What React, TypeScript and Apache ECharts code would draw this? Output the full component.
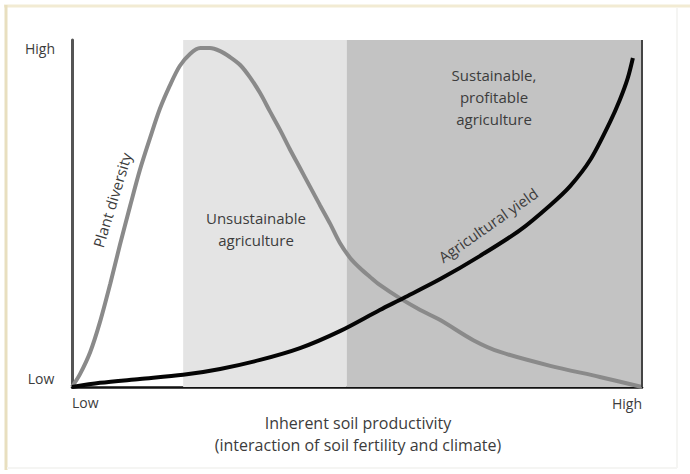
import React, { useEffect, useRef } from "react";
import * as echarts from "echarts";

// x: inherent soil productivity (0 = low, 100 = high); y: relative level (0 = low, 100 = high)
const plantDiversity: [number, number][] = [
  [0, 0], [1.4, 3.7], [3.2, 10.1], [4.9, 18.7], [6.7, 29.7], [8.4, 40.9], [10.2, 52.2],
  [11.9, 62.5], [13.7, 71.8], [15.4, 80.1], [17.2, 87.0], [18.9, 92.5], [20.7, 96.0],
  [22.5, 97.7], [24.2, 97.7], [26.0, 96.8], [27.7, 95.1], [29.5, 92.8], [31.2, 89.3],
  [33.0, 84.7], [34.7, 79.5], [36.5, 74.1], [38.2, 68.6], [40.0, 63.1], [41.8, 57.6],
  [43.5, 52.4], [45.3, 47.0], [47.0, 41.5], [48.8, 37.2], [50.5, 34.3], [52.3, 31.7],
  [54.0, 29.4], [57.5, 25.6], [61.1, 22.2], [64.6, 19.3], [70.4, 13.5], [75.1, 10.1],
  [83.9, 6.1], [92.6, 2.9], [100, 0],
];
const agriculturalYield: [number, number][] = [
  [0, 0], [4.9, 1.2], [11.9, 2.3], [19.5, 3.5], [26, 5.2], [33, 7.8], [40, 11.2], [47, 16.1],
  [54, 22.2], [58.1, 25.6], [64.6, 31.1], [71.6, 37.8], [78.6, 45.2], [83.9, 52.4],
  [87.4, 57.9], [90.9, 65.4], [94.4, 76.4], [96.1, 82.7], [97.5, 89.0], [98.4, 94.8],
];
const unsustainableStart = 19.5;
const sustainableStart = 48.2;
const axisMax = 100;
const lowLabel = "Low";
const highLabel = "High";
const xTitle = ["Inherent soil productivity", "(interaction of soil fertility and climate)"];
const unsustainableLabel = "Unsustainable\nagriculture";
const sustainableLabel = "Sustainable,\nprofitable\nagriculture";
const diversityLabel = "Plant diversity";
const yieldLabel = "Agricultural yield";

const FONT = "Open Sans";
const TXT = "#3c3c3c";

export default function App() {
  const ref = useRef<HTMLDivElement>(null);
  useEffect(() => {
    if (!ref.current) return;
    const chart = echarts.init(ref.current, null, { renderer: "svg" });
    const textStyle = (extra: any = {}) => ({
      fill: TXT,
      fontFamily: FONT,
      fontSize: 14,
      ...extra,
    });
    const txt = (x: number, y: number, text: string, extra: any = {}, rot = 0) => ({
      type: "text",
      x,
      y,
      z: 100,
      rotation: (rot * Math.PI) / 180,
      style: textStyle({ text, align: "center", verticalAlign: "middle", ...extra }),
    });
    chart.setOption({
      animation: false,
      backgroundColor: "#ffffff",
      grid: { left: 72, top: 40, right: 48, bottom: 87 },
      xAxis: {
        type: "value",
        min: 0,
        max: axisMax,
        axisLine: { show: true, onZero: false, lineStyle: { color: "#111", width: 2.5 } },
        axisTick: { show: false },
        axisLabel: { show: false },
        splitLine: { show: false },
      },
      yAxis: {
        type: "value",
        min: 0,
        max: axisMax,
        axisLine: { show: true, onZero: false, lineStyle: { color: "#555", width: 3 } },
        axisTick: { show: false },
        axisLabel: { show: false },
        splitLine: { show: false },
      },
      series: [
        {
          type: "line",
          data: [],
          silent: true,
          markArea: {
            silent: true,
            itemStyle: { color: "#e4e4e4" },
            data: [[{ xAxis: unsustainableStart }, { xAxis: sustainableStart }]],
          },
        },
        {
          type: "line",
          data: [],
          silent: true,
          markArea: {
            silent: true,
            itemStyle: { color: "#c3c3c3" },
            data: [[{ xAxis: sustainableStart }, { xAxis: axisMax }]],
          },
          markLine: {
            silent: true,
            symbol: "none",
            label: { show: false },
            lineStyle: { color: "#444", width: 2, type: "solid" },
            data: [{ xAxis: axisMax }],
          },
        },
        {
          name: "Plant diversity",
          type: "line",
          data: plantDiversity,
          smooth: 0.3,
          showSymbol: false,
          lineStyle: { color: "#8a8a8a", width: 4 },
          z: 3,
        },
        {
          name: "Agricultural yield",
          type: "line",
          data: agriculturalYield,
          smooth: 0.3,
          showSymbol: false,
          lineStyle: { color: "#050505", width: 4 },
          z: 4,
        },
      ],
      graphic: [
        { type: "line", z: 100, shape: { x1: 4, y1: 6, x2: 690, y2: 6 }, style: { stroke: "#f2ebd3", lineWidth: 3 } },
        { type: "line", z: 100, shape: { x1: 6, y1: 5, x2: 6, y2: 470 }, style: { stroke: "#e8dfbf", lineWidth: 3 } },
        { type: "line", z: 100, shape: { x1: 677, y1: 8, x2: 677, y2: 468 }, style: { stroke: "#f5f5f3", lineWidth: 2 } },
        { type: "line", z: 100, shape: { x1: 7, y1: 468, x2: 677, y2: 468 }, style: { stroke: "#f5f5f3", lineWidth: 2 } },
        txt(40, 48, highLabel),
        txt(41, 378, lowLabel),
        txt(72, 402, lowLabel, { align: "left" }),
        txt(642, 403, highLabel, { align: "right" }),
        txt(358, 423, xTitle[0], { fontSize: 16 }),
        txt(358, 445, xTitle[1], { fontSize: 16 }),
        txt(256, 229, unsustainableLabel, { lineHeight: 22, fontSize: 15 }),
        txt(494, 97, sustainableLabel, { lineHeight: 22, fontSize: 15 }),
        txt(112, 200, diversityLabel, { fontSize: 15 }, 73),
        txt(488, 225, yieldLabel, { fontSize: 15 }, 35),
      ],
    });
    return () => chart.dispose();
  }, []);
  return (
    <div
      ref={ref}
      style={{ position: "fixed", left: 0, top: 0, width: 690, height: 474 }}
    />
  );
}
